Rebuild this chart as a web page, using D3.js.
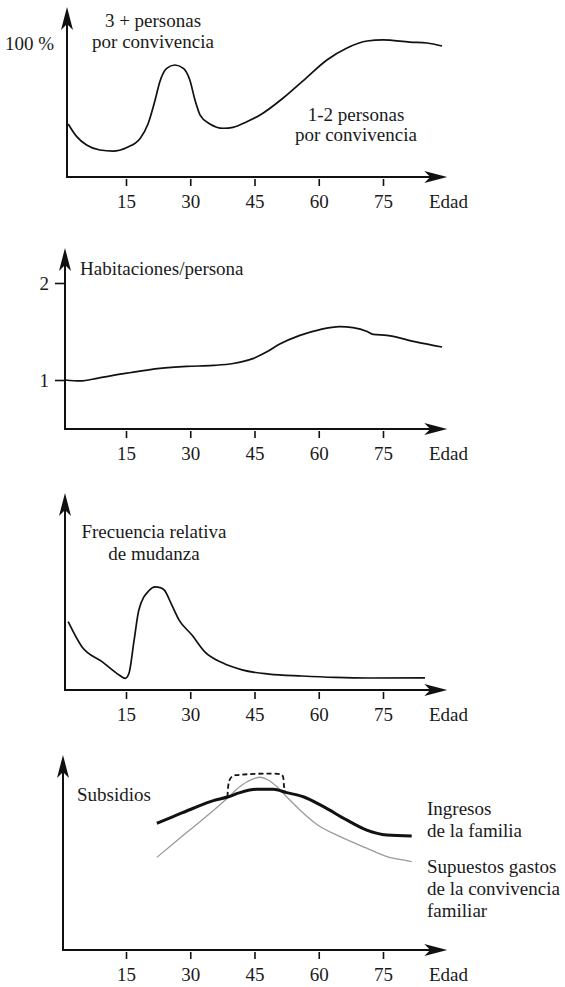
<!DOCTYPE html>
<html>
<head>
<meta charset="utf-8">
<script src="https://cdn.jsdelivr.net/npm/d3@7"></script>
<style>
  body { margin: 0; background: #fff; }
  svg { display: block; }
  text { font-family: "Liberation Serif", "Times New Roman", serif; font-size: 19px; fill: #1a1a1a; }
</style>
</head>
<body>
<svg width="565" height="987"></svg>
<script>
// tick labels shared by all four panels
var edadTicks = [15, 30, 45, 60, 75];

// panel 1: % personas por convivencia
var convEdad = [1.5, 3.5, 5.8, 8.9, 12, 15.2, 18.3, 20.2, 21.8, 22.9, 24.5, 26.4, 28.4, 29.9, 31.1, 32.3, 34.6, 37.7, 40, 43.2, 46.3, 51.7, 57.3, 61.9, 66.6, 71.3, 75, 81.3, 85.3, 88.8];
var convPct = [40.5, 30.8, 24.4, 20.6, 19.8, 22.6, 29.4, 41, 58.8, 72.7, 82.9, 85.5, 82.9, 74, 58.8, 47.3, 40.5, 37.2, 37.9, 42.2, 47.3, 60.3, 76.3, 89.3, 98.5, 103.8, 104.6, 103, 102.3, 100];

// panel 2: habitaciones por persona
var habEdad = [0.8, 4.3, 8.5, 15.2, 22.9, 29.2, 35.3, 40, 44.6, 47.9, 50.9, 55.6, 60.3, 64.9, 68, 71.3, 72.7, 75.9, 82.9, 88.8];
var habVal = [1.0, 0.99, 1.02, 1.07, 1.12, 1.14, 1.15, 1.17, 1.22, 1.29, 1.37, 1.46, 1.52, 1.55, 1.54, 1.5, 1.47, 1.46, 1.39, 1.34];
var habTicks = [1, 2];

// panel 3: frecuencia relativa de mudanza
var mudEdad = [1.5, 4.7, 9.4, 13.4, 14.8, 15.7, 16.9, 18, 20.4, 21.8, 23, 23.9, 25.7, 27.4, 30.4, 33.4, 37.4, 42.1, 48.4, 56.1, 63.8, 71.7, 84.8];
var mudVal = [34.7, 22, 14.4, 7.6, 5.9, 8.5, 25.4, 40.6, 50.5, 52.3, 52, 50.8, 43.1, 35.5, 27.9, 19.4, 13.9, 10.2, 8.1, 7.1, 6.4, 6.1, 6.2];

// panel 4: ingresos vs gastos, subsidios
var ingEdad = [22.2, 26, 30.7, 35.4, 38.9, 41.6, 45.5, 49.4, 52.5, 56.4, 61.1, 66.5, 71.2, 75.9, 81.7];
var ingVal = [65, 68.4, 72.7, 76.6, 78.6, 80.7, 82.4, 82.4, 80.7, 78.6, 73.5, 66.7, 61.5, 59, 58.5];
var gasEdad = [22.2, 26, 30.7, 35.4, 38.9, 41.6, 44.7, 46.3, 48.2, 50.2, 52.5, 55.6, 59.5, 65, 71.2, 75.9, 80.5, 81.7];
var gasVal = [47.5, 54.5, 63, 71.5, 78.3, 83.8, 87.7, 88.6, 87.2, 83.8, 78.6, 71.8, 64.5, 58.1, 52.2, 47.9, 45.8, 45.3];
var subEdad = [38.7, 39.1, 39.9, 40.8, 51, 51.6, 51.9, 52.2];
var subVal = [78.6, 86.8, 89.2, 89.7, 90.1, 89.2, 83.8, 80.4];

var svg = d3.select("svg");
var x = d3.scaleLinear().domain([15, 75]).range([126, 383]); // same age scale for every panel
var arrowPath = "M0,0L-23,-6L-17,0L-23,6Z";

function zip(a, b) { return a.map((d, i) => [d, b[i]]); }

// draws the two arrowed axes and the age ticks, returns the y scale
function panel(axisY, topY, yAxisX, yDomain, yRange) {
  var g = svg.append("g");
  var tipX = x(90);
  g.append("line").attr("x1", yAxisX).attr("x2", tipX - 10).attr("y1", axisY).attr("y2", axisY)
    .attr("stroke", "#111").attr("stroke-width", 2);
  g.append("path").attr("d", arrowPath).attr("transform", "translate(" + tipX + "," + axisY + ")").attr("fill", "#111");
  g.append("line").attr("x1", yAxisX).attr("x2", yAxisX).attr("y1", axisY + 1).attr("y2", topY + 10)
    .attr("stroke", "#111").attr("stroke-width", 2);
  g.append("path").attr("d", arrowPath).attr("transform", "translate(" + yAxisX + "," + topY + ") rotate(-90)").attr("fill", "#111");

  var ax = g.append("g").attr("transform", "translate(0," + axisY + ")")
    .call(d3.axisBottom(x).tickValues(edadTicks).tickSize(9).tickPadding(9));
  ax.select(".domain").remove();
  ax.selectAll(".tick line").attr("stroke", "#111").attr("stroke-width", 1.6).attr("y1", 2);
  ax.selectAll("text").attr("font-family", null).attr("font-size", null).attr("fill", null);
  g.append("text").attr("x", 429).attr("y", axisY + 31).text("Edad");

  return d3.scaleLinear().domain(yDomain).range(yRange);
}

function curve(y, xs, ys, stroke, width, dash, kind) {
  svg.append("path")
    .datum(zip(xs, ys))
    .attr("fill", "none")
    .attr("stroke", stroke)
    .attr("stroke-width", width)
    .attr("stroke-dasharray", dash || null)
    .attr("stroke-linejoin", "round")
    .attr("d", d3.line().x(d => x(d[0])).y(d => y(d[1])).curve(kind || d3.curveMonotoneX));
}

function label(lines, px, py, anchor, step) {
  var t = svg.append("text").attr("text-anchor", anchor || "start");
  lines.forEach((s, i) => t.append("tspan").attr("x", px).attr("y", py + i * (step || 22)).text(s));
}

// ---- panel 1
var y1 = panel(177, 7, 67, [0, 100], [177, 46]);
curve(y1, convEdad, convPct, "#111", 1.7);
label(["100 %"], 54, 50, "end");
label(["3 + personas", "por convivencia"], 153, 27, "middle", 21);
label(["1-2 personas", "por convivencia"], 356, 121, "middle", 20);

// ---- panel 2
var y2 = panel(429, 248, 65, [1, 2], [380, 283]);
var ay = svg.append("g").attr("transform", "translate(65,0)")
  .call(d3.axisLeft(y2).tickValues(habTicks).tickSize(10).tickPadding(6).tickFormat(d3.format("d")));
ay.select(".domain").remove();
ay.selectAll(".tick line").attr("stroke", "#111").attr("stroke-width", 1.6);
ay.selectAll("text").attr("font-family", null).attr("font-size", null).attr("fill", null);
curve(y2, habEdad, habVal, "#111", 1.7);
label(["Habitaciones/persona"], 80, 275);

// ---- panel 3
var y3 = panel(690, 493, 65, [0, 100], [690, 493]);
curve(y3, mudEdad, mudVal, "#111", 1.7);
label(["Frecuencia relativa", "de mudanza"], 154, 538, "middle", 22);

// ---- panel 4
var y4 = panel(950, 755, 63, [0, 100], [950, 755]);
curve(y4, gasEdad, gasVal, "#9a9a9a", 1.3);
curve(y4, ingEdad, ingVal, "#111", 3);
curve(y4, subEdad, subVal, "#111", 1.8, "5,3", d3.curveCatmullRom);
label(["Subsidios"], 77, 801);
label(["Ingresos", "de la familia"], 427, 815, "start", 22);
label(["Supuestos gastos", "de la convivencia", "familiar"], 427, 873, "start", 22);
</script>
</body>
</html>
